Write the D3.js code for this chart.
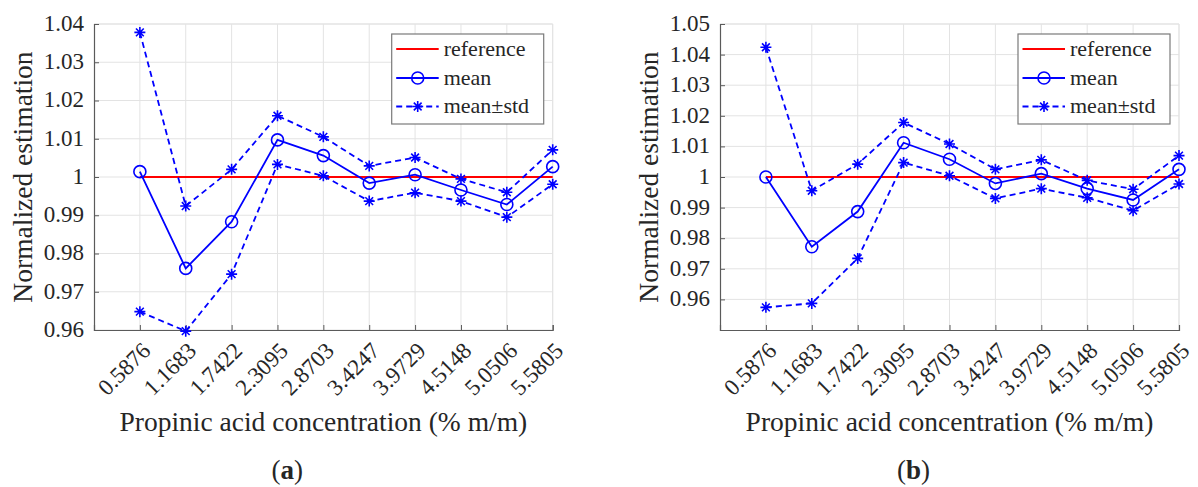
<!DOCTYPE html>
<html><head><meta charset="utf-8">
<script src="https://cdn.jsdelivr.net/npm/d3@7"></script>
<style>
body{margin:0;background:#fff}
svg text{font-family:'Liberation Serif','DejaVu Serif';fill:#262626}
</style>
</head><body><script>
// ---------- data ----------
const categories = ["0.5876","1.1683","1.7422","2.3095","2.8703","3.4247","3.9729","4.5148","5.0506","5.5805"];
const referenceValue = 1;
const meanA  = [1.0014,0.9761,0.9883,1.0097,1.0056,0.9984,1.0006,0.9966,0.9928,1.0027];
const upperA = [1.0378,0.9924,1.0020,1.0160,1.0105,1.0029,1.0051,0.9995,0.9960,1.0071];
const lowerA = [0.9648,0.9597,0.9746,1.0033,1.0003,0.9937,0.9959,0.9937,0.9895,0.9981];
const meanB  = [1.0000,0.9772,0.9887,1.0112,1.0058,0.9979,1.0011,0.9962,0.9925,1.0025];
const upperB = [1.0424,0.9955,1.0042,1.0178,1.0108,1.0025,1.0056,0.9989,0.9960,1.0070];
const lowerB = [0.9574,0.9587,0.9734,1.0047,1.0004,0.9930,0.9962,0.9932,0.9890,0.9977];
const yTicksA = [0.96,0.97,0.98,0.99,1,1.01,1.02,1.03,1.04];
const yTickLabelsA = ["0.96","0.97","0.98","0.99","1","1.01","1.02","1.03","1.04"];
const yTicksB = [0.96,0.97,0.98,0.99,1,1.01,1.02,1.03,1.04,1.05];
const yTickLabelsB = ["0.96","0.97","0.98","0.99","1","1.01","1.02","1.03","1.04","1.05"];
const legendLabels = ["reference","mean","mean\u00B1std"];
const xTitle = "Propinic acid concentration (% m/m)";
const yTitle = "Normalized estimation";

// ---------- drawing ----------
const W = 1198, H = 487;
const svg = d3.select("body").append("svg").attr("width", W).attr("height", H);
const BLUE = "#0000ff", RED = "#ff0000", GRID = "#e3e3e3", AXIS = "#5a5a5a";
const FONT = "'Liberation Serif','DejaVu Serif'";

function starPath(r){
  const d = r*0.7071;
  return `M${-r},0H${r}M0,${-r}V${r}M${-d},${-d}L${d},${d}M${-d},${d}L${d},${-d}`;
}

function panel(cfg){
  const g = svg.append("g").attr("font-family", FONT);
  const x = d3.scaleLinear().domain([0, categories.length]).range([cfg.left, cfg.right]);
  const y = d3.scaleLinear().domain(cfg.yDomain).range([cfg.bottom, cfg.top]);
  const idx = categories.map((c,i)=>i+1);

  g.append("g").selectAll("line").data(idx).join("line")
    .attr("x1", d=>x(d)).attr("x2", d=>x(d)).attr("y1", cfg.top).attr("y2", cfg.bottom)
    .attr("stroke", GRID).attr("stroke-width", 1);
  g.append("g").selectAll("line").data(cfg.yTicks).join("line")
    .attr("x1", cfg.left).attr("x2", cfg.right).attr("y1", d=>y(d)).attr("y2", d=>y(d))
    .attr("stroke", GRID).attr("stroke-width", 1);
  g.append("line").attr("x1",cfg.left).attr("x2",cfg.right).attr("y1",cfg.top).attr("y2",cfg.top).attr("stroke",GRID);
  g.append("line").attr("x1",cfg.right).attr("x2",cfg.right).attr("y1",cfg.top).attr("y2",cfg.bottom).attr("stroke",GRID);

  const xAxis = d3.axisBottom(x).tickValues(idx).tickSize(-5).tickFormat("");
  const xa = g.append("g").attr("transform", `translate(0,${cfg.bottom})`).call(xAxis);
  xa.select(".domain").attr("stroke", AXIS).attr("stroke-width",1.2);
  xa.selectAll(".tick line").attr("stroke", AXIS);
  const yAxis = d3.axisLeft(y).tickValues(cfg.yTicks).tickSize(-5).tickFormat("");
  const ya = g.append("g").attr("transform", `translate(${cfg.left},0)`).call(yAxis);
  ya.select(".domain").attr("stroke", AXIS).attr("stroke-width",1.2);
  ya.selectAll(".tick line").attr("stroke", AXIS);

  g.append("g").selectAll("text").data(cfg.yTicks).join("text")
    .attr("x", cfg.left - 10).attr("y", d=>y(d)).attr("dy","0.3em")
    .attr("text-anchor","end").attr("font-size",23)
    .text((d,i)=>cfg.yTickLabels[i]);
  g.append("g").selectAll("text").data(categories).join("text")
    .attr("transform",(d,i)=>`translate(${x(i+1)+12},${cfg.bottom+22}) rotate(-45)`)
    .attr("text-anchor","end").attr("font-size",23)
    .text(d=>d);

  g.append("text").attr("transform",`translate(${cfg.left-62},${(cfg.top+cfg.bottom)/2}) rotate(-90)`)
    .attr("text-anchor","middle").attr("font-size",27.5).text(yTitle);
  g.append("text").attr("x",(cfg.left+cfg.right)/2).attr("y",431)
    .attr("text-anchor","middle").attr("font-size",27.5).text(xTitle);
  const pl = g.append("text").attr("x",(cfg.left+cfg.right)/2-36).attr("y",479)
    .attr("text-anchor","middle").attr("font-size",27);
  pl.append("tspan").text("(");
  pl.append("tspan").attr("font-weight","bold").text(cfg.panelLabel);
  pl.append("tspan").text(")");

  const line = d3.line().x((d,i)=>x(i+1)).y(d=>y(d));
  g.append("line").attr("x1",x(1)).attr("x2",x(categories.length))
    .attr("y1",y(referenceValue)).attr("y2",y(referenceValue))
    .attr("stroke",RED).attr("stroke-width",2);
  [cfg.upper, cfg.lower].forEach(s=>{
    g.append("path").datum(s).attr("d",line).attr("fill","none")
      .attr("stroke",BLUE).attr("stroke-width",1.8).attr("stroke-dasharray","6,4");
    g.append("g").selectAll("path").data(s).join("path")
      .attr("transform",(d,i)=>`translate(${x(i+1)},${y(d)})`)
      .attr("d",starPath(5.5)).attr("stroke",BLUE).attr("stroke-width",1.6).attr("fill","none");
  });
  g.append("path").datum(cfg.mean).attr("d",line).attr("fill","none")
    .attr("stroke",BLUE).attr("stroke-width",1.8);
  g.append("g").selectAll("circle").data(cfg.mean).join("circle")
    .attr("cx",(d,i)=>x(i+1)).attr("cy",d=>y(d)).attr("r",6)
    .attr("fill","none").attr("stroke",BLUE).attr("stroke-width",1.6);

  const lw = 152, lh = 90;
  const lx = cfg.right - 9 - lw, ly = cfg.top + 10;
  const lg = g.append("g").attr("transform",`translate(${lx},${ly})`);
  lg.append("rect").attr("width",lw).attr("height",lh).attr("fill","#fff")
    .attr("stroke","#7a7a7a").attr("stroke-width",1.2);
  const rowY = [15, 44, 72.5];
  const styles = [
    {stroke:RED, dash:null, marker:null},
    {stroke:BLUE, dash:null, marker:"circle"},
    {stroke:BLUE, dash:"6,4", marker:"star"}
  ];
  legendLabels.forEach((lab,i)=>{
    const st = styles[i];
    const ln = lg.append("line").attr("x1",4.5).attr("x2",47).attr("y1",rowY[i]).attr("y2",rowY[i])
      .attr("stroke",st.stroke).attr("stroke-width", i===0?2:1.8);
    if(st.dash) ln.attr("stroke-dasharray",st.dash);
    if(st.marker==="circle") lg.append("circle").attr("cx",26).attr("cy",rowY[i]).attr("r",6)
      .attr("fill","none").attr("stroke",BLUE).attr("stroke-width",1.6);
    if(st.marker==="star") lg.append("path").attr("transform",`translate(26,${rowY[i]})`)
      .attr("d",starPath(5.5)).attr("stroke",BLUE).attr("stroke-width",1.6);
    lg.append("text").attr("x",52).attr("y",rowY[i]).attr("dy","0.3em")
      .attr("font-size",22).text(lab);
  });
}

panel({left:94, right:552.7, top:24, bottom:330, yDomain:[0.96,1.04],
  yTicks:yTicksA, yTickLabels:yTickLabelsA, mean:meanA, upper:upperA, lower:lowerA, panelLabel:"a"});
panel({left:720, right:1179, top:24, bottom:330, yDomain:[0.95,1.05],
  yTicks:yTicksB, yTickLabels:yTickLabelsB, mean:meanB, upper:upperB, lower:lowerB, panelLabel:"b"});
</script></body></html>
